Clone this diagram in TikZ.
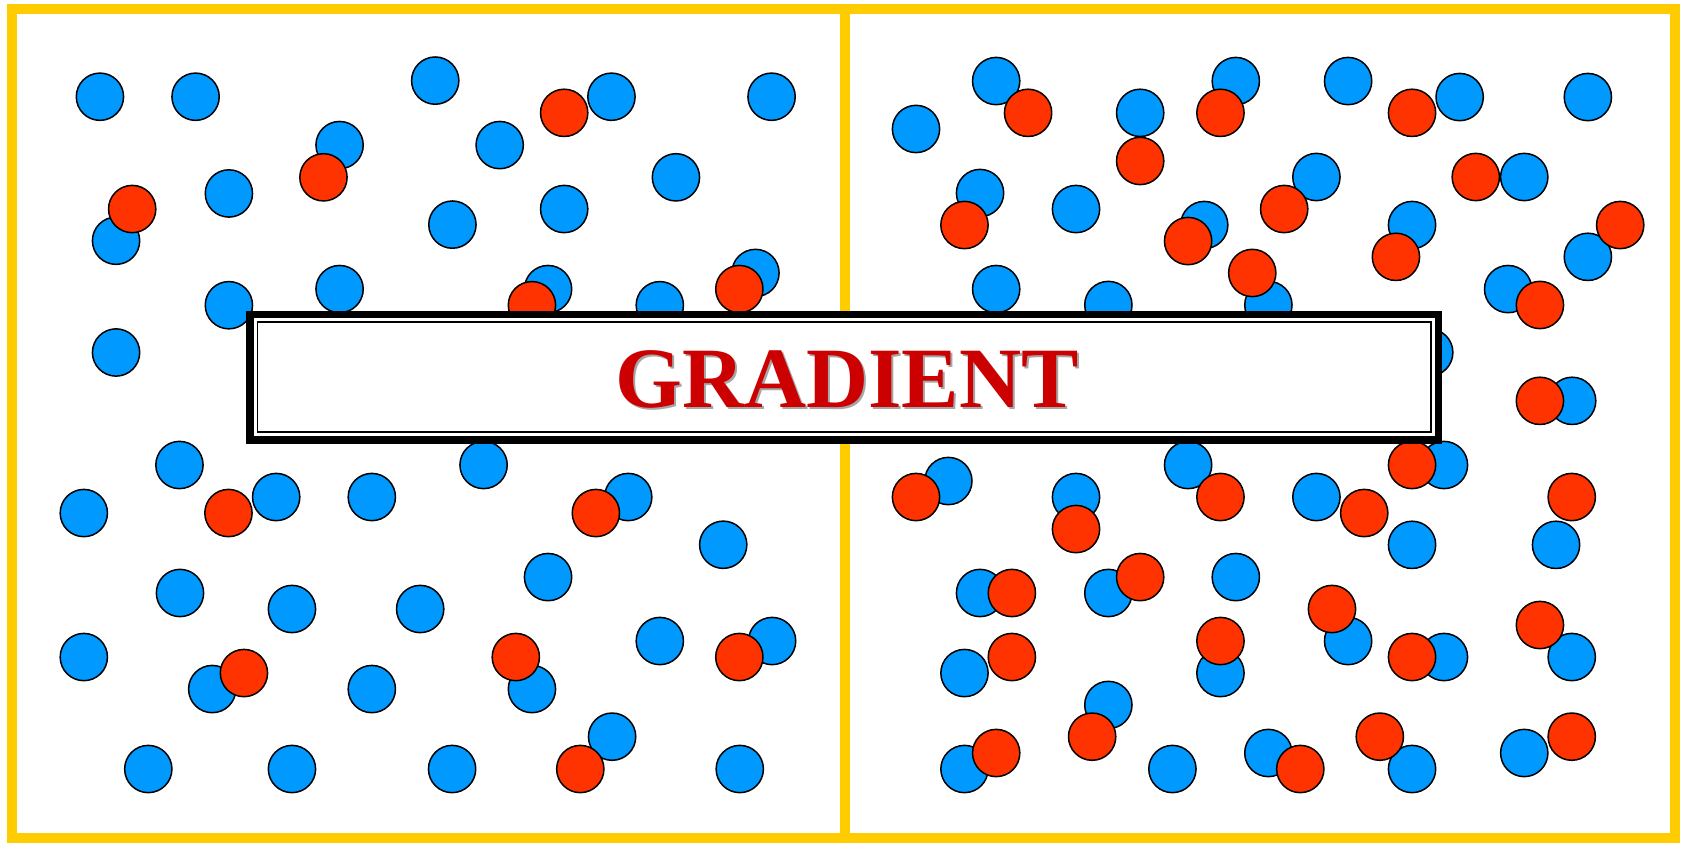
\documentclass[tikz,border=0pt]{standalone}
\usepackage{fontspec}
\setmainfont{Liberation Serif}
\usetikzlibrary{positioning}
\definecolor{frameyellow}{HTML}{FFCC00}
\definecolor{soluteblue}{HTML}{0099FF}
\definecolor{solutered}{HTML}{FF3300}
\definecolor{labelred}{HTML}{CC0000}
\tikzset{
  blueball/.style={fill=soluteblue,draw=black,line width=0.7pt},
  redball/.style={fill=solutered,draw=black,line width=0.7pt},
  labelfont/.style={font=\bfseries\fontsize{40}{40}\selectfont,inner sep=0pt}
}

\begin{document}
\begin{tikzpicture}[x=0.5pt,y=-0.5pt]
\useasboundingbox (0,0) rectangle (1568,784);
% container and membrane
\draw[frameyellow,line width=4.75pt] (11,8.5) rectangle (1559,779.5);
\draw[frameyellow,line width=4.75pt] (786,8.5) -- (786,779.5);
% particles
\foreach \px/\py in {93/90,182/90,405/75,569/90,718/90,316/135,465/135,629/165,213/180,108/224,421/209,525/194.5,316/269,213/284,510/269,614/284,703/254,108/328,
  167/432.7,78/477.4,257/462.5,346/462.5,450/432.7,584.6/462.5,673/506.9,167.5/551.8,271.7/566.7,391/566.7,510/537,78/611.4,197.5/641.2,346/641.2,495/641.2,614/596.5,718.5/596.5,138/715.6,271.7/715.6,420.7/715.6,569.6/685.5,688.4/715.6,
  852.4/120,927/75.4,1061/105,1150/75.4,1254.5/75.4,1358.3/90.3,1477.6/90.3,912/179.6,1001.3/194.5,1120.6/209.4,1225/164.7,1418.4/164.7,1314/209.4,1477.6/239,1180.3/283.8,927/269,1031.4/283.8,1403.4/269,1330/328,1463/373,
  882.5/447.6,1001.3/462.5,1105.6/432.7,1225/462.5,1343.7/432.7,1314/507,1448/507,912/551.8,1031.4/551.8,1150/537,1254.5/596.5,1135.7/626.3,1343.7/611.4,1462.6/611.4,897.5/626.3,1031.4/656,897.5/715.6,1091/715.6,1180.3/700.7,1314/715.6,1418.4/700.7}
  \draw[blueball] (\px,\py) circle[radius=11pt];
\foreach \px/\py in {525/105,301/165,123/194.5,495/284,688/269,212.6/477.4,554.5/477.4,227/626.3,480/611.4,688/611.4,540/715.6,
  956.7/105,1061/149.8,1135.7/105,1314/105,897.5/209.4,1105.6/224.3,1195/194.5,1373.3/164.7,1299/239,1507.7/209.4,1165.3/254,1433/283.8,1433/373,
  852.4/462.5,1001.3/492.3,1135.7/462.5,1269.5/477.4,1314/432.7,1462.6/462.5,941.6/551.8,1061/537,1239.5/566.7,1135.7/596.5,1314/611.4,1433/581.6,941.6/611.4,1016.3/685.5,927/700.7,1210/715.6,1284/685.5,1462.6/685.5}
  \draw[redball] (\px,\py) circle[radius=11pt];
% label box
\node[draw=black,fill=white,line width=3.5pt,outer sep=0pt,inner sep=0pt,
  minimum width=553pt,minimum height=58.5pt] (labelbox) at (785.5,351) {};
\draw[line width=0.8pt] ([shift={(3.6pt,-3.6pt)}]labelbox.north west) rectangle ([shift={(-3.6pt,3.6pt)}]labelbox.south east);
\node[labelfont,text=black!35] (labelshadow) at (790,355) {GRADIENT};
\node[labelfont,text=labelred] (gradientlabel) at (788,353) {GRADIENT};
\end{tikzpicture}
\end{document}
